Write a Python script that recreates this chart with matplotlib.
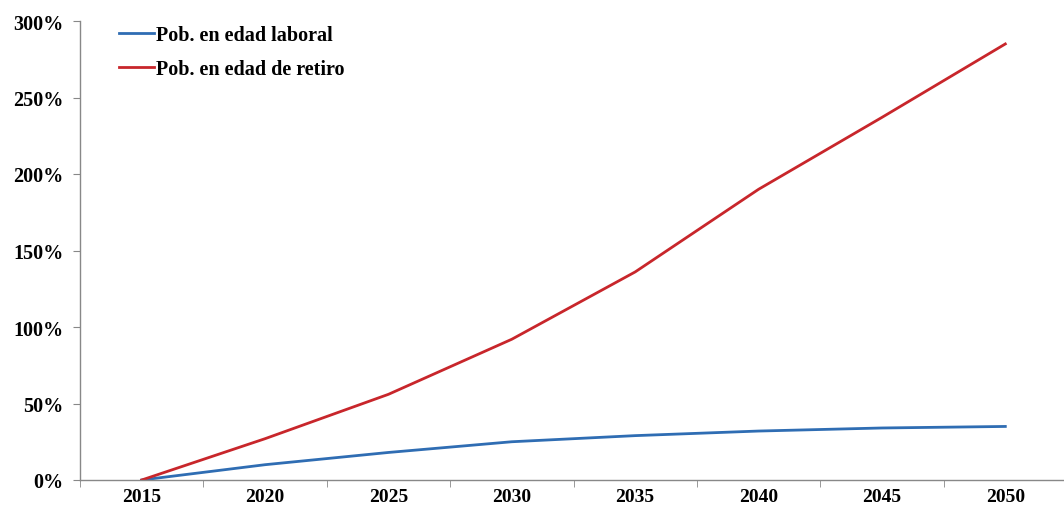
import matplotlib
matplotlib.use("Agg")
import matplotlib.pyplot as plt
from matplotlib.ticker import FuncFormatter, FixedLocator

years = ["2015", "2020", "2025", "2030", "2035", "2040", "2045", "2050"]
laboral = [0, 10, 18, 25, 29, 32, 34, 35]
retiro = [0, 27, 56, 92, 136, 190, 237, 285]
series_names = ["Pob. en edad laboral", "Pob. en edad de retiro"]
y_ticks = [0, 50, 100, 150, 200, 250, 300]

plt.rcParams['font.family'] = ['Liberation Serif', 'DejaVu Serif']
plt.rcParams['font.weight'] = 'bold'

fig = plt.figure(figsize=(10.64, 5.10), dpi=100)
ax = fig.add_axes([80/1064, 29/510, 987/1064, 459/510])

x = list(range(len(years)))
ax.plot(x, laboral, color="#2f6db3", lw=2.0, label=series_names[0])
ax.plot(x, retiro, color="#c8262b", lw=2.0, label=series_names[1])

ax.set_xlim(-0.5, len(years) - 0.5)
ax.set_ylim(0, 300)
ax.set_xticks(x)
ax.set_xticklabels(years, fontsize=14, fontweight='bold')
ax.xaxis.set_minor_locator(FixedLocator([i + 0.5 for i in range(-1, len(years))]))
ax.tick_params(axis='x', which='major', length=0, pad=6)
ax.tick_params(axis='x', which='minor', length=5, color='#888888', direction='out')
ax.set_yticks(y_ticks)
ax.yaxis.set_major_formatter(FuncFormatter(lambda v, p: f"{int(v)}%"))
ax.tick_params(axis='y', length=5, color='#888888', labelsize=14.5, pad=7)
for lab in ax.get_yticklabels():
    lab.set_fontweight('bold')

for s in ['top', 'right']:
    ax.spines[s].set_visible(False)
for s in ['left', 'bottom']:
    ax.spines[s].set_color('#888888')
    ax.spines[s].set_linewidth(1.0)

leg = ax.legend(loc='upper left', bbox_to_anchor=(0.021, 1.03), frameon=False,
                prop={'family': 'Liberation Serif', 'weight': 'bold', 'size': 14.5},
                handlelength=1.75, handletextpad=0.1, labelspacing=0.7)

fig.savefig("out.png", dpi=100)
